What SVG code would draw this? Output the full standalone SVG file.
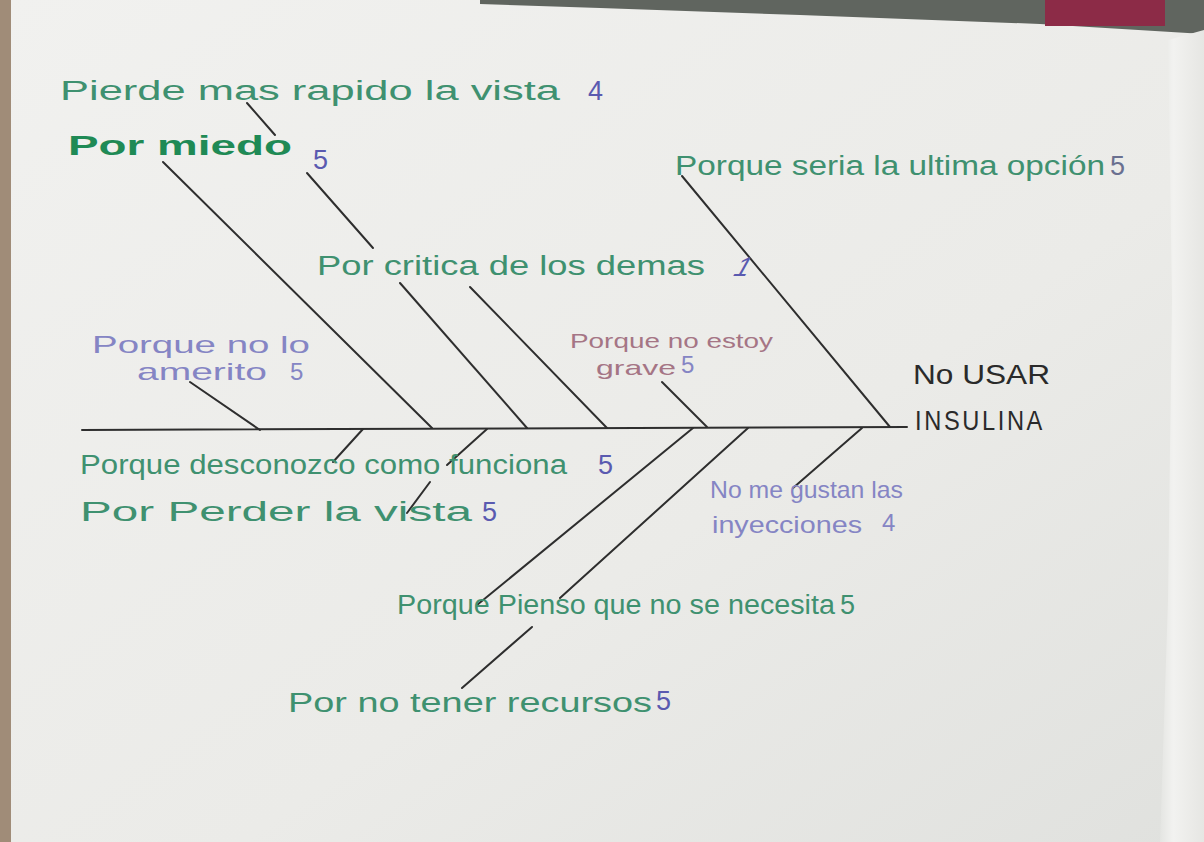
<svg xmlns="http://www.w3.org/2000/svg" width="1204" height="842" viewBox="0 0 1204 842">
<defs>
<linearGradient id="paper" x1="0" y1="0" x2="1" y2="1">
<stop offset="0" stop-color="#f1f1ef"/>
<stop offset="0.6" stop-color="#ebebe8"/>
<stop offset="1" stop-color="#e0e1de"/>
</linearGradient>
<linearGradient id="sheet" x1="0" y1="0" x2="1" y2="0">
<stop offset="0" stop-color="#e4e5e2"/>
<stop offset="0.3" stop-color="#f2f2f0"/>
<stop offset="1" stop-color="#e6e6e3"/>
</linearGradient>
<style>
.t{font-family:"Liberation Sans","DejaVu Sans",sans-serif;font-size:27px;}
.g{fill:#3f9170;}
.gb{fill:#1f8a55;font-weight:bold;}
.p{fill:#5a5ab0;}
.lv{fill:#8585c4;font-size:24px;}
.mv{fill:#a57585;font-size:21px;}
.k{fill:#2a2a2a;}
.bone{stroke:#2e2e2e;stroke-width:2;fill:none;stroke-linecap:round;}
</style>
</defs>
<g id="background">
<rect x="0" y="0" width="1204" height="842" fill="url(#paper)"/>
<rect x="0" y="0" width="11" height="842" fill="#a08c78"/>
<polygon points="480,0 1204,0 1204,34 1040,24 800,15 600,8 480,4" fill="#60655f"/>
<rect x="1045" y="0" width="120" height="26" fill="#8c2b47"/>
<polygon points="1168,40 1204,30 1204,842 1160,842 1168,600 1172,300" fill="url(#sheet)"/>
</g>
<g id="connectors">
<line class="bone" x1="82" y1="430" x2="907" y2="427"/>
<line class="bone" x1="163" y1="162" x2="432" y2="428"/>
<line class="bone" x1="400" y1="283" x2="527" y2="428"/>
<line class="bone" x1="470" y1="287" x2="607" y2="428"/>
<line class="bone" x1="682" y1="176" x2="890" y2="427"/>
<line class="bone" x1="662" y1="382" x2="707" y2="427"/>
<line class="bone" x1="190" y1="382" x2="260" y2="430"/>
<line class="bone" x1="247" y1="103" x2="275" y2="135"/>
<line class="bone" x1="307" y1="173" x2="373" y2="248"/>
<line class="bone" x1="363" y1="429" x2="333" y2="462"/>
<line class="bone" x1="487" y1="429" x2="447" y2="465"/>
<line class="bone" x1="430" y1="482" x2="407" y2="513"/>
<line class="bone" x1="693" y1="428" x2="477" y2="605"/>
<line class="bone" x1="748" y1="428" x2="560" y2="598"/>
<line class="bone" x1="532" y1="627" x2="462" y2="688"/>
<line class="bone" x1="862" y1="428" x2="793" y2="488"/>
</g>
<g id="effect">
<text class="t k" x="913" y="384" textLength="137" lengthAdjust="spacingAndGlyphs">No USAR</text>
<text class="t k" x="915" y="430" textLength="130" lengthAdjust="spacingAndGlyphs" letter-spacing="3">INSULINA</text>
</g>
<g id="n-pierde">
<text class="t g" x="60" y="100" textLength="500" lengthAdjust="spacingAndGlyphs">Pierde mas rapido la vista</text>
<text class="t p" x="588" y="100">4</text>
</g>
<g id="n-miedo">
<text class="t gb" x="68" y="155" textLength="224" lengthAdjust="spacingAndGlyphs">Por miedo</text>
<text class="t p" x="313" y="169" font-size="32">5</text>
</g>
<g id="n-ultima">
<text class="t g" x="675" y="175" textLength="430" lengthAdjust="spacingAndGlyphs">Porque seria la ultima opción</text>
<text class="t" x="1110" y="175" fill="#6a7090" font-size="24">5</text>
</g>
<g id="n-critica">
<text class="t g" x="317" y="275" textLength="388" lengthAdjust="spacingAndGlyphs">Por critica de los demas</text>
<text class="t p" x="733" y="276" font-style="italic" transform="skewX(-20) translate(100,0)">1</text>
</g>
<g id="n-amerito">
<text class="t lv" x="92" y="353" textLength="218" lengthAdjust="spacingAndGlyphs">Porque no lo</text>
<text class="t lv" x="137" y="380" textLength="130" lengthAdjust="spacingAndGlyphs">amerito</text>
<text class="t lv" x="290" y="380" font-size="16">5</text>
</g>
<g id="n-grave">
<text class="t mv" x="570" y="348" textLength="203" lengthAdjust="spacingAndGlyphs">Porque no estoy</text>
<text class="t mv" x="596" y="375" textLength="80" lengthAdjust="spacingAndGlyphs">grave</text>
<text class="t lv" x="681" y="373" font-size="14">5</text>
</g>
<g id="n-desconozco">
<text class="t g" x="80" y="474" textLength="487" lengthAdjust="spacingAndGlyphs">Porque desconozco como funciona</text>
<text class="t p" x="598" y="474">5</text>
</g>
<g id="n-perder">
<text class="t g" x="80" y="521" textLength="392" lengthAdjust="spacingAndGlyphs">Por Perder la vista</text>
<text class="t p" x="482" y="521">5</text>
</g>
<g id="n-inyecciones">
<text class="t lv" x="710" y="498" textLength="193" lengthAdjust="spacingAndGlyphs">No me gustan las</text>
<text class="t lv" x="712" y="533" textLength="150" lengthAdjust="spacingAndGlyphs">inyecciones</text>
<text class="t lv" x="882" y="531" font-size="20">4</text>
</g>
<g id="n-necesita">
<text class="t g" x="397" y="614" textLength="438" lengthAdjust="spacingAndGlyphs">Porque Pienso que no se necesita</text>
<text class="t g" x="840" y="614">5</text>
</g>
<g id="n-recursos">
<text class="t g" x="288" y="712" textLength="364" lengthAdjust="spacingAndGlyphs">Por no tener recursos</text>
<text class="t p" x="656" y="710" font-size="24">5</text>
</g>
</svg>
